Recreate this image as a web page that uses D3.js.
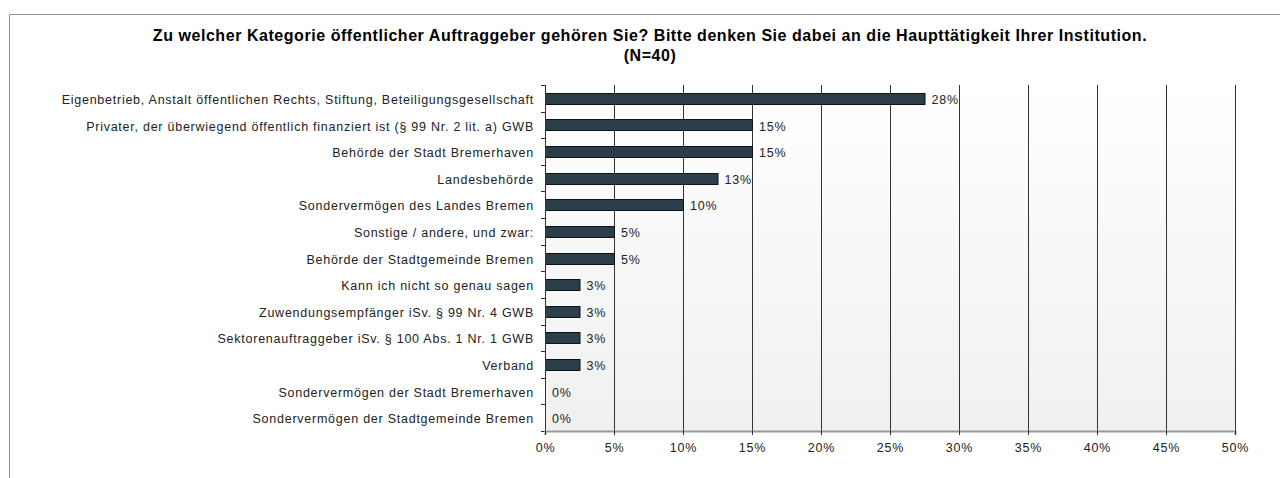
<!DOCTYPE html>
<html>
<head>
<meta charset="utf-8">
<script src="https://cdn.jsdelivr.net/npm/d3@7"></script>
<style>
  body { margin: 0; background: #fff; }
  svg text { font-family: "Liberation Sans", Arial, sans-serif; fill: #222; }
</style>
</head>
<body>
<svg width="1280" height="478"></svg>
<script>
// data
var categories = [
  "Eigenbetrieb, Anstalt öffentlichen Rechts, Stiftung, Beteiligungsgesellschaft",
  "Privater, der überwiegend öffentlich finanziert ist (§ 99 Nr. 2 lit. a) GWB",
  "Behörde der Stadt Bremerhaven",
  "Landesbehörde ",
  "Sondervermögen des Landes Bremen",
  "Sonstige / andere, und zwar:",
  "Behörde der Stadtgemeinde Bremen",
  "Kann ich nicht so genau sagen",
  "Zuwendungsempfänger iSv. § 99 Nr. 4 GWB",
  "Sektorenauftraggeber iSv. § 100 Abs. 1 Nr. 1 GWB",
  "Verband",
  "Sondervermögen der Stadt Bremerhaven",
  "Sondervermögen der Stadtgemeinde Bremen"
];
var values = [27.5, 15, 15, 12.5, 10, 5, 5, 2.5, 2.5, 2.5, 2.5, 0, 0];
var valueLabels = ["28%", "15%", "15%", "13%", "10%", "5%", "5%", "3%", "3%", "3%", "3%", "0%", "0%"];
var xTicks = [0, 5, 10, 15, 20, 25, 30, 35, 40, 45, 50];
var titleLines = [
  "Zu welcher Kategorie öffentlicher Auftraggeber gehören Sie? Bitte denken Sie dabei an die Haupttätigkeit Ihrer Institution.",
  "(N=40)"
];

var svg = d3.select("svg"),
    margin = {top: 85, right: 45, bottom: 47, left: 545},
    width = +svg.attr("width") - margin.left - margin.right,
    height = +svg.attr("height") - margin.top - margin.bottom;

// outer frame
svg.append("path")
    .attr("d", "M9.5,478 V14.5 H1280")
    .attr("fill", "none")
    .attr("stroke", "#8c8c8c")
    .attr("stroke-width", 1);

svg.append("g").selectAll("text")
    .data(titleLines)
  .enter().append("text")
    .attr("x", 650)
    .attr("y", function(d, i) { return 41 + i * 20; })
    .attr("text-anchor", "middle")
    .style("font-weight", "bold")
    .style("font-size", "16px")
    .style("letter-spacing", "0.55px")
    .style("fill", "#000")
    .text(function(d) { return d; });

var defs = svg.append("defs");
var grad = defs.append("linearGradient")
    .attr("id", "bg").attr("x1", 0).attr("y1", 0).attr("x2", 0).attr("y2", 1);
grad.append("stop").attr("offset", "0%").attr("stop-color", "#ffffff");
grad.append("stop").attr("offset", "100%").attr("stop-color", "#f0f0f0");

var g = svg.append("g").attr("transform", "translate(" + margin.left + "," + margin.top + ")");

var x = d3.scaleLinear().domain([0, 50]).range([0, width]);
var y = d3.scaleBand().domain(categories).range([0, height]);

g.append("rect")
    .attr("width", width)
    .attr("height", height)
    .attr("fill", "url(#bg)");

// grid
g.append("g").selectAll("line")
    .data(xTicks.slice(1))
  .enter().append("line")
    .attr("x1", function(d) { return Math.round(x(d)) + 0.5; })
    .attr("x2", function(d) { return Math.round(x(d)) + 0.5; })
    .attr("y1", 0)
    .attr("y2", height)
    .attr("stroke", "#333")
    .attr("stroke-width", 1);

// bars
var barH = 11;
g.append("g").selectAll("rect")
    .data(values)
  .enter().filter(function(d) { return d > 0; }).append("rect")
    .attr("x", 0.5)
    .attr("y", function(d, i) { return Math.round(y(categories[i]) + y.bandwidth() / 2 - barH / 2) + 0.5; })
    .attr("width", function(d) { return x(d); })
    .attr("height", barH)
    .attr("fill", "#2b3f4a")
    .attr("stroke", "#111")
    .attr("stroke-width", 1);

// value labels
g.append("g").selectAll("text")
    .data(values)
  .enter().append("text")
    .attr("x", function(d) { return x(d) + 7; })
    .attr("y", function(d, i) { return y(categories[i]) + y.bandwidth() / 2; })
    .attr("dy", "0.45em")
    .style("font-size", "12.5px")
    .style("letter-spacing", "0.75px")
    .text(function(d, i) { return valueLabels[i]; });

// y axis
var yAxis = g.append("g")
    .call(d3.axisLeft(y).tickSize(0).tickPadding(11));
yAxis.select(".domain").remove();
yAxis.selectAll("text")
    .attr("dy", "0.45em")
    .style("font-size", "12.5px")
    .style("letter-spacing", "0.75px")
    .attr("fill", "#222");

// left axis line and ticks at band boundaries
var bounds = d3.range(categories.length + 1).map(function(i) { return i * y.step(); });
g.append("g").selectAll("line")
    .data(bounds)
  .enter().append("line")
    .attr("x1", -4).attr("x2", 0)
    .attr("y1", function(d) { return Math.round(d) + 0.5; })
    .attr("y2", function(d) { return Math.round(d) + 0.5; })
    .attr("stroke", "#333");
g.append("line")
    .attr("x1", 0.5).attr("x2", 0.5)
    .attr("y1", 0).attr("y2", height)
    .attr("stroke", "#333");

// x axis
var xAxis = g.append("g")
    .attr("transform", "translate(0," + height + ")")
    .call(d3.axisBottom(x).tickValues(xTicks).tickSize(4).tickPadding(8)
      .tickFormat(function(d) { return d + "%"; }));
xAxis.select(".domain")
    .attr("stroke", "#999")
    .attr("stroke-width", 2);
xAxis.selectAll(".tick line").attr("stroke", "#333");
xAxis.selectAll("text")
    .style("font-size", "12.5px")
    .style("letter-spacing", "0.75px")
    .attr("fill", "#222");
</script>
</body>
</html>
